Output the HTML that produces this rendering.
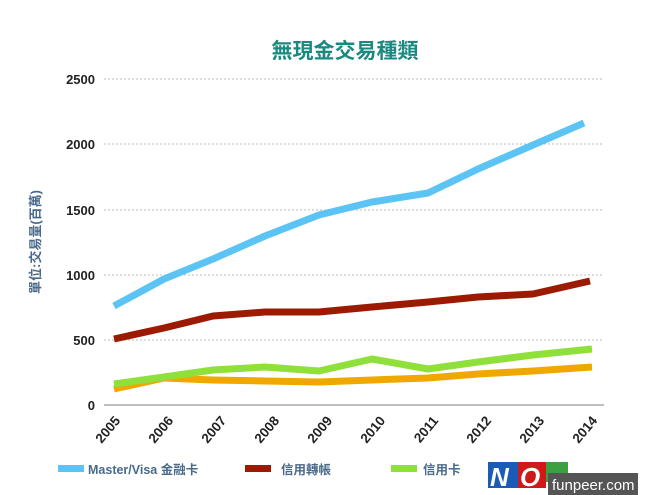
<!DOCTYPE html>
<html><head><meta charset="utf-8"><style>body{margin:0;background:#fff}</style></head><body>
<svg width="660" height="495" xmlns="http://www.w3.org/2000/svg" style="font-family:'Liberation Sans','Noto Sans CJK TC',sans-serif;display:block">
<text x="345" y="58" text-anchor="middle" font-size="21" font-weight="bold" fill="#1a8a80">無現金交易種類</text>
<g stroke="#bbb" stroke-width="1" stroke-dasharray="2,2">
<line x1="104" x2="604" y1="79" y2="79"/><line x1="104" x2="604" y1="144" y2="144"/><line x1="104" x2="604" y1="210" y2="210"/><line x1="104" x2="604" y1="275" y2="275"/><line x1="104" x2="604" y1="340" y2="340"/></g>
<line x1="104" x2="604" y1="405" y2="405" stroke="#aaa" stroke-width="1.5"/>
<g font-size="13" font-weight="bold" fill="#222" text-anchor="end">
<text x="95" y="84">2500</text><text x="95" y="149">2000</text><text x="95" y="215">1500</text><text x="95" y="280">1000</text><text x="95" y="345">500</text><text x="95" y="410">0</text></g>
<text transform="translate(40,242) rotate(-90)" text-anchor="middle" font-size="13" font-weight="bold" fill="#4a6a8a">單位:交易量(百萬)</text>
<g font-size="13.5" font-weight="bold" fill="#222" text-anchor="end">
<text transform="translate(121,421) rotate(-50)">2005</text><text transform="translate(174,421) rotate(-50)">2006</text><text transform="translate(227,421) rotate(-50)">2007</text><text transform="translate(280,421) rotate(-50)">2008</text><text transform="translate(333,421) rotate(-50)">2009</text><text transform="translate(386,421) rotate(-50)">2010</text><text transform="translate(439,421) rotate(-50)">2011</text><text transform="translate(492,421) rotate(-50)">2012</text><text transform="translate(545,421) rotate(-50)">2013</text><text transform="translate(598,421) rotate(-50)">2014</text></g>
<g fill="none" stroke-width="7" stroke-linejoin="round">
<polyline stroke="#f0a800" points="114,389 164,378 213,380 265,381 319,382 372,380 428,378 478,374 533,371 592,367"/>
<polyline stroke="#8fe03a" points="114,384 164,377 213,370 265,367 319,371 372,359 428,369 478,362 533,355 592,349"/>
<polyline stroke="#9c1a00" points="114,339 164,328 213,316 265,312 319,312 372,307 428,302 478,297 533,294 590,281"/>
<polyline stroke="#5bc4f5" points="114,306 164,279 213,259 265,236 319,215 372,202 428,193 478,169 533,145 584,123"/>
</g>
<g font-size="12.5" font-weight="bold" fill="#4a6a8a">
<rect x="58" y="465" width="26" height="7" fill="#5bc4f5"/><text x="88" y="474">Master/Visa 金融卡</text>
<rect x="245" y="465" width="26" height="7" fill="#9c1a00"/><text x="281" y="474">信用轉帳</text>
<rect x="391" y="465" width="26" height="7" fill="#8fe03a"/><text x="423" y="474">信用卡</text></g>
<g font-weight="bold" font-style="italic" font-size="26">
<rect x="488" y="462" width="30" height="26" fill="#1a5bb8"/><text x="490" y="486" fill="#fff">N</text>
<rect x="518" y="462" width="28" height="26" fill="#d01818"/><text x="520" y="486" fill="#fff">O</text>
<rect x="546" y="462" width="22" height="20" fill="#3aa040"/></g>
<rect x="548" y="473" width="90" height="22" fill="#555"/>
<text x="552" y="490" font-size="15" fill="#fff">funpeer.com</text>
</svg>
</body></html>
